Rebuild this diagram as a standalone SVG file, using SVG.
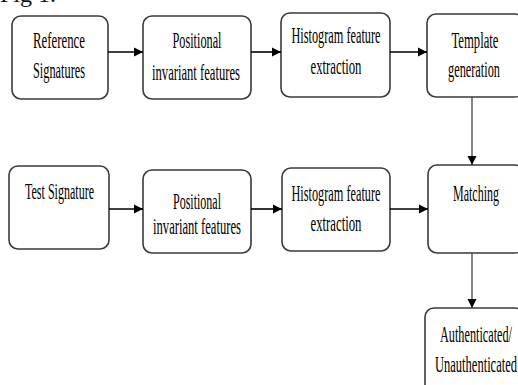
<svg xmlns="http://www.w3.org/2000/svg" width="518" height="385" viewBox="0 0 518 385">
<style>
.box{fill:#fff;stroke:#3a3a3a;stroke-width:1.6}
.t{font-family:"Liberation Serif","Times New Roman",serif;font-size:24px;fill:#000;text-anchor:middle}
.c{stroke:#000;stroke-width:1.6;fill:none}
.cv{stroke:#333;stroke-width:1.2;fill:none}
</style>
<defs>
<marker id="ah" markerWidth="10" markerHeight="10" refX="9" refY="5" orient="auto" markerUnits="userSpaceOnUse">
<path d="M0,0.5 L9,5 L0,9.5 Z" fill="#000"/>
</marker>
</defs>
<rect width="518" height="385" fill="#fff"/>
<text x="0" y="2" style="font-family:'Liberation Serif','Times New Roman',serif;font-size:24px;fill:#111">Fig 1.</text>

<g id="n1">
<rect class="box" x="12" y="16" width="96" height="83" rx="9"/>
<text class="t" x="59" y="48" textLength="52" lengthAdjust="spacingAndGlyphs">Reference</text>
<text class="t" x="59" y="78" textLength="52" lengthAdjust="spacingAndGlyphs">Signatures</text>
</g>
<g id="n2">
<rect class="box" x="143" y="16" width="108" height="83" rx="9"/>
<text class="t" x="197" y="48" textLength="49" lengthAdjust="spacingAndGlyphs">Positional</text>
<text class="t" x="196" y="80" textLength="88" lengthAdjust="spacingAndGlyphs">invariant features</text>
</g>
<g id="n3">
<rect class="box" x="281" y="13" width="109" height="84" rx="9"/>
<text class="t" x="336" y="43" textLength="89" lengthAdjust="spacingAndGlyphs">Histogram feature</text>
<text class="t" x="336" y="74" textLength="51" lengthAdjust="spacingAndGlyphs">extraction</text>
</g>
<g id="n4">
<rect class="box" x="427" y="14" width="97" height="83" rx="9"/>
<text class="t" x="475" y="48" textLength="47" lengthAdjust="spacingAndGlyphs">Template</text>
<text class="t" x="474" y="77" textLength="52" lengthAdjust="spacingAndGlyphs">generation</text>
</g>

<g id="n5">
<rect class="box" x="9" y="166" width="100" height="83" rx="9"/>
<text class="t" x="59.5" y="199" textLength="69" lengthAdjust="spacingAndGlyphs">Test Signature</text>
</g>
<g id="n6">
<rect class="box" x="143" y="170" width="108" height="83" rx="9"/>
<text class="t" x="197" y="209" textLength="48" lengthAdjust="spacingAndGlyphs">Positional</text>
<text class="t" x="197" y="234" textLength="88" lengthAdjust="spacingAndGlyphs">invariant features</text>
</g>
<g id="n7">
<rect class="box" x="282" y="168" width="108" height="83" rx="9"/>
<text class="t" x="336" y="201" textLength="89" lengthAdjust="spacingAndGlyphs">Histogram feature</text>
<text class="t" x="336" y="231" textLength="51" lengthAdjust="spacingAndGlyphs">extraction</text>
</g>
<g id="n8">
<rect class="box" x="428" y="165" width="96" height="88" rx="9"/>
<text class="t" x="476" y="201" textLength="46" lengthAdjust="spacingAndGlyphs">Matching</text>
</g>
<g id="n9">
<rect class="box" x="425" y="308" width="99" height="90" rx="9"/>
<text class="t" x="476" y="342" textLength="72" lengthAdjust="spacingAndGlyphs">Authenticated/</text>
<text class="t" x="476" y="372" textLength="82" lengthAdjust="spacingAndGlyphs">Unauthenticated</text>
</g>

<g id="connectors">
<line class="c" x1="108" y1="52" x2="143" y2="52" marker-end="url(#ah)"/>
<line class="c" x1="251" y1="52" x2="281" y2="52" marker-end="url(#ah)"/>
<line class="c" x1="390" y1="52" x2="427" y2="52" marker-end="url(#ah)"/>
<line class="cv" x1="472" y1="97" x2="472" y2="165" marker-end="url(#ah)"/>
<line class="c" x1="109" y1="209" x2="143" y2="209" marker-end="url(#ah)"/>
<line class="c" x1="251" y1="209" x2="282" y2="209" marker-end="url(#ah)"/>
<line class="c" x1="390" y1="209" x2="428" y2="209" marker-end="url(#ah)"/>
<line class="cv" x1="472" y1="253" x2="472" y2="308" marker-end="url(#ah)"/>
</g>
</svg>
